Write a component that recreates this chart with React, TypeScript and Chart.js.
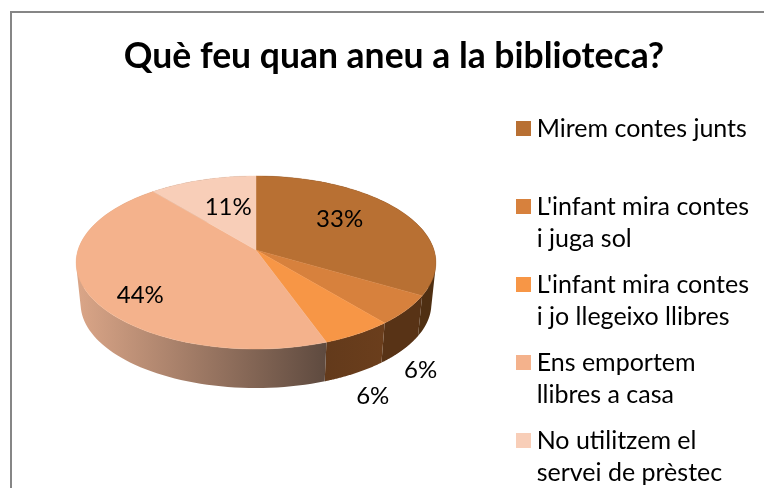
import React, { useEffect, useRef } from "react";
import { Chart, registerables } from "chart.js";

Chart.register(...registerables);

const titleText = "Què feu quan aneu a la biblioteca?";
const categories = [
  ["Mirem contes junts", " "],
  ["L'infant mira contes", "i juga sol"],
  ["L'infant mira contes", "i jo llegeixo llibres"],
  ["Ens emportem", "llibres a casa"],
  ["No utilitzem el", "servei de prèstec"],
];
const responses = [6, 1, 1, 8, 2];
const topColors = ["#b87033", "#d7813d", "#f79646", "#f4b28c", "#f8ceb8"];
const wallStart = ["#4f2f12", "#583316", "#6b3e1c", "#dba688", "#9a8070"];
const wallEnd = ["#4f2f12", "#583316", "#633a1b", "#5e4a3f", "#9a8070"];
const labelNudges = [
  [-5, -6],
  [78, 86],
  [59, 99],
  [-19, 19],
  [6, 1],
];

const FONT = "Lato, Carlito, Calibri, sans-serif";
const CX = 256;
const CY = 250;
const TILT = 0.476;
const PERSP = 0.1445;
const WALL_DROP = 41.5;
const WALL_SCALE = 0.975;

type Pt = { x: number; y: number };

function project(a: number, f: number, r: number, s: number, oy: number): Pt {
  const u = Math.cos(a);
  const v = Math.sin(a);
  const w = 1 - PERSP * v * f;
  return {
    x: CX + (r * s * u * f) / w,
    y: oy + (r * TILT * s * v * f) / w,
  };
}

function swatch(color: string) {
  const c = document.createElement("canvas");
  c.width = 15;
  c.height = 15;
  const g = c.getContext("2d")!;
  g.fillStyle = color;
  g.fillRect(0, 0, 15, 15);
  return c;
}

function addQuad(ctx: CanvasRenderingContext2D, q: Pt[]) {
  let area = 0;
  q.forEach((p, i) => {
    const n = q[(i + 1) % q.length];
    area += p.x * n.y - n.x * p.y;
  });
  const pts = area < 0 ? q.slice().reverse() : q;
  pts.forEach((p, i) => (i ? ctx.lineTo(p.x, p.y) : ctx.moveTo(p.x, p.y)));
  ctx.closePath();
}

const pie3d = {
  id: "pie3d",
  beforeDraw(chart: any) {
    const { ctx, width, height } = chart;
    ctx.save();
    ctx.fillStyle = "#ffffff";
    ctx.fillRect(0, 0, width, height);
    ctx.fillStyle = "#868686";
    ctx.fillRect(10, 11, width, 2);
    ctx.fillRect(10, 11, 2, height);
    ctx.restore();
  },
  beforeDatasetDraw(chart: any) {
    const { ctx } = chart;
    const arcs = chart.getDatasetMeta(0).data as any[];
    const total = responses.reduce((p, c) => p + c, 0);
    ctx.save();
    arcs.forEach((el, i) => {
      const { startAngle, endAngle, outerRadius } = el.getProps(
        ["startAngle", "endAngle", "outerRadius"],
        true
      );
      const n = 80;
      const top: Pt[] = [];
      const bot: Pt[] = [];
      for (let k = 0; k <= n; k++) {
        const a = startAngle + ((endAngle - startAngle) * k) / n;
        top.push(project(a, 1, outerRadius, 1, CY));
        bot.push(project(a, 1, outerRadius, WALL_SCALE, CY + WALL_DROP));
      }
      const xs = top.concat(bot).map((p) => p.x);
      const g = ctx.createLinearGradient(Math.min(...xs), 0, Math.max(...xs), 0);
      const goesLeft = top[0].x > top[n].x;
      g.addColorStop(0, i === 3 ? wallStart[i] : goesLeft ? wallEnd[i] : wallStart[i]);
      g.addColorStop(1, i === 3 ? wallEnd[i] : goesLeft ? wallStart[i] : wallEnd[i]);
      ctx.fillStyle = g;
      ctx.beginPath();
      for (let k = 0; k < n; k++) {
        addQuad(ctx, [top[k], top[k + 1], bot[k + 1], bot[k]]);
      }
      ctx.fill("nonzero");
    });
    arcs.forEach((el, i) => {
      const { startAngle, endAngle, outerRadius } = el.getProps(
        ["startAngle", "endAngle", "outerRadius"],
        true
      );
      const n = 60;
      ctx.beginPath();
      ctx.moveTo(CX, CY);
      for (let k = 0; k <= n; k++) {
        const p = project(startAngle + ((endAngle - startAngle) * k) / n, 1, outerRadius, 1, CY);
        ctx.lineTo(p.x, p.y);
      }
      ctx.closePath();
      ctx.fillStyle = topColors[i];
      ctx.strokeStyle = topColors[i];
      ctx.lineWidth = 0.4;
      ctx.fill();
      ctx.stroke();
    });
    ctx.fillStyle = "#000000";
    ctx.font = `24px ${FONT}`;
    ctx.textAlign = "center";
    ctx.textBaseline = "middle";
    arcs.forEach((el, i) => {
      const { startAngle, endAngle, outerRadius } = el.getProps(
        ["startAngle", "endAngle", "outerRadius"],
        true
      );
      const p = project((startAngle + endAngle) / 2, 0.6, outerRadius, 1, CY);
      const pct = Math.round((responses[i] / total) * 100);
      ctx.fillText(`${pct}%`, p.x + labelNudges[i][0], p.y + labelNudges[i][1]);
    });
    ctx.restore();
    return false;
  },
};

export default function App() {
  const ref = useRef<HTMLCanvasElement | null>(null);
  useEffect(() => {
    const chart = new Chart(ref.current!, {
      type: "pie",
      plugins: [pie3d],
      data: {
        labels: categories as any,
        datasets: [{ data: responses, backgroundColor: topColors, radius: 178, borderWidth: 0 } as any],
      },
      options: {
        animation: false,
        responsive: false,
        layout: { padding: { left: 29, right: 5, top: 0, bottom: 0 } },
        plugins: {
          tooltip: { enabled: false },
          title: {
            display: true,
            text: titleText,
            color: "#000000",
            font: { family: FONT, size: 35.5, weight: "bold", lineHeight: "42px" },
            padding: { top: 36, bottom: 24 },
          },
          legend: {
            position: "right",
            align: "start",
            fullSize: false,
            labels: {
              color: "#000000",
              font: { family: FONT, size: 25, lineHeight: "32px" },
              padding: 14,
              usePointStyle: true,
              pointStyleWidth: 1,
              generateLabels: () =>
                categories.map((text, i) => ({
                  text,
                  index: i,
                  datasetIndex: 0,
                  fillStyle: topColors[i],
                  strokeStyle: topColors[i],
                  lineWidth: 0,
                  pointStyle: swatch(topColors[i]),
                })) as any,
            },
          },
        },
      },
    });
    return () => chart.destroy();
  }, []);
  return (
    <div style={{ position: "fixed", left: 0, top: 0, width: 764, height: 488, overflow: "hidden", background: "#fff" }}>
      <canvas ref={ref} width={764} height={560} style={{ display: "block" }} />
    </div>
  );
}
